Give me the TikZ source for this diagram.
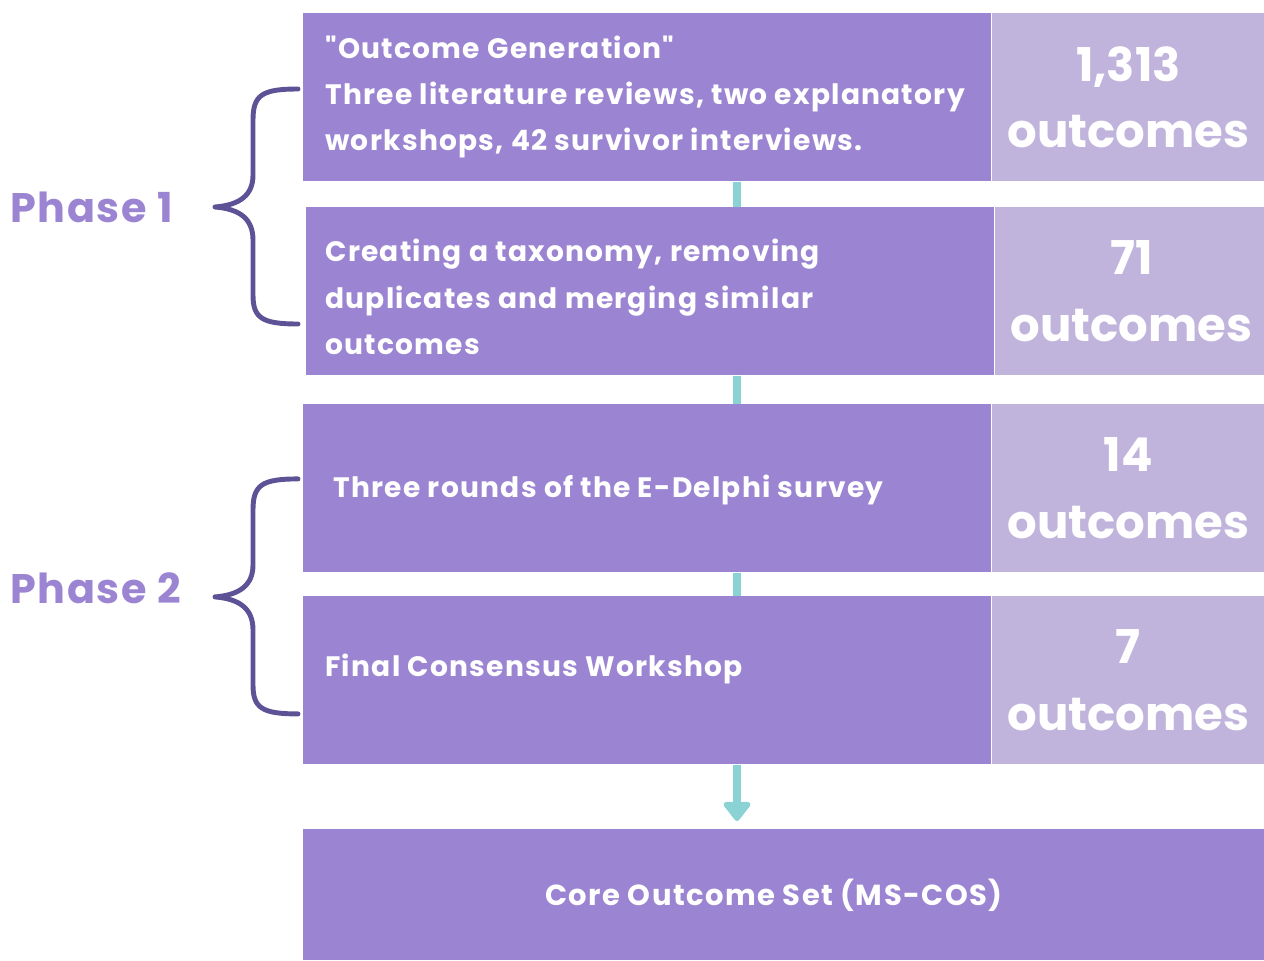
\documentclass[tikz,border=0pt]{standalone}
\usepackage{fontspec}
\newfontfamily\diagfont{Poppins}
\usetikzlibrary{arrows.meta,positioning}
\definecolor{boxpurple}{HTML}{9B84D1}
\definecolor{boxlight}{HTML}{C0B4DC}
\definecolor{linkteal}{HTML}{8AD2D3}
\definecolor{bracepurple}{HTML}{5E5296}

\begin{document}
\begin{tikzpicture}[x=0.02cm,y=-0.02cm,
                    stepbox/.style={rectangle, inner sep=0pt, fill=boxpurple, minimum width=13.76cm, minimum height=3.36cm, anchor=north west},
                    countbox/.style={rectangle, inner sep=0pt, fill=boxlight, minimum width=5.46cm, minimum height=3.36cm, text=white, align=center, font=\diagfont\bfseries\fontsize{26.5}{38}\selectfont},
                    steptext/.style={anchor=west, inner sep=0pt, text=white, align=left, font=\diagfont\bfseries\fontsize{16}{26.3}\selectfont\addfontfeature{LetterSpace=4.5}},
                    phase/.style={anchor=west, inner sep=0pt, text=boxpurple, font=\diagfont\bfseries\fontsize{23.5}{28}\selectfont\addfontfeature{LetterSpace=4}},
                    link/.style={draw=linkteal, line width=4.5pt},
                    brace/.style={draw=bracepurple, line width=2.8pt, line cap=round, line join=round}]
  \useasboundingbox (0,0) rectangle (1264,960);
  \coordinate (cx) at (737,0);

  % steps and counts
  \node (s1) [stepbox] at (303,13) {};
  \node (c1) [countbox, right=0cm of s1] {1,313\\outcomes};
  \node (s2) [stepbox] at (306,207) {};
  \node (c2) [countbox, right=0cm of s2] {71\\outcomes};
  \node (s3) [stepbox] at (303,404) {};
  \node (c3) [countbox, right=0cm of s3] {14\\outcomes};
  \node (s4) [stepbox] at (303,596) {};
  \node (c4) [countbox, right=0cm of s4] {7\\outcomes};
  \node (cos) [stepbox, minimum width=19.22cm, minimum height=2.62cm, text=white,
               font=\diagfont\bfseries\fontsize{16.5}{26}\selectfont\addfontfeature{LetterSpace=5}] at (303,829) {Core Outcome Set (MS-COS)\hspace*{0.4cm}};

  \node (t1) [steptext] at (325,97) {"Outcome Generation"\\Three literature reviews, two explanatory\\workshops, 42 survivor interviews.};
  \node (t2) [steptext] at (325,297) {Creating a taxonomy, removing\\duplicates and merging similar\\outcomes};
  \node (t3) [steptext] at (333,490) {Three rounds of the E-Delphi survey};
  \node (t4) [steptext] at (325,669) {Final Consensus Workshop};

  % connectors
  \draw[link] (s1.south -| cx) -- (s2.north -| cx);
  \draw[link] (s2.south -| cx) -- (s3.north -| cx);
  \draw[link] (s3.south -| cx) -- (s4.north -| cx);
  \draw[link, -{Triangle[width=0.62cm,length=0.42cm,round]}, shorten >=0.16cm] (s4.south -| cx) -- (cos.north -| cx);

  % phases
  \node (p1) [phase] at (10,207) {Phase 1};
  \node (p2) [phase] at (10,588) {Phase 2};
  \draw[brace] (298,89) .. controls (262,89) and (253,95) .. (253,120) -- (253,175)
     .. controls (253,195) and (240,205) .. (215,207) .. controls (240,209) and (253,219) .. (253,240)
     -- (253,295) .. controls (253,318) and (262,324) .. (298,324);
  \draw[brace, yshift=-7.8cm] (298,89) .. controls (262,89) and (253,95) .. (253,120) -- (253,175)
     .. controls (253,195) and (240,205) .. (215,207) .. controls (240,209) and (253,219) .. (253,240)
     -- (253,295) .. controls (253,318) and (262,324) .. (298,324);
\end{tikzpicture}
\end{document}
